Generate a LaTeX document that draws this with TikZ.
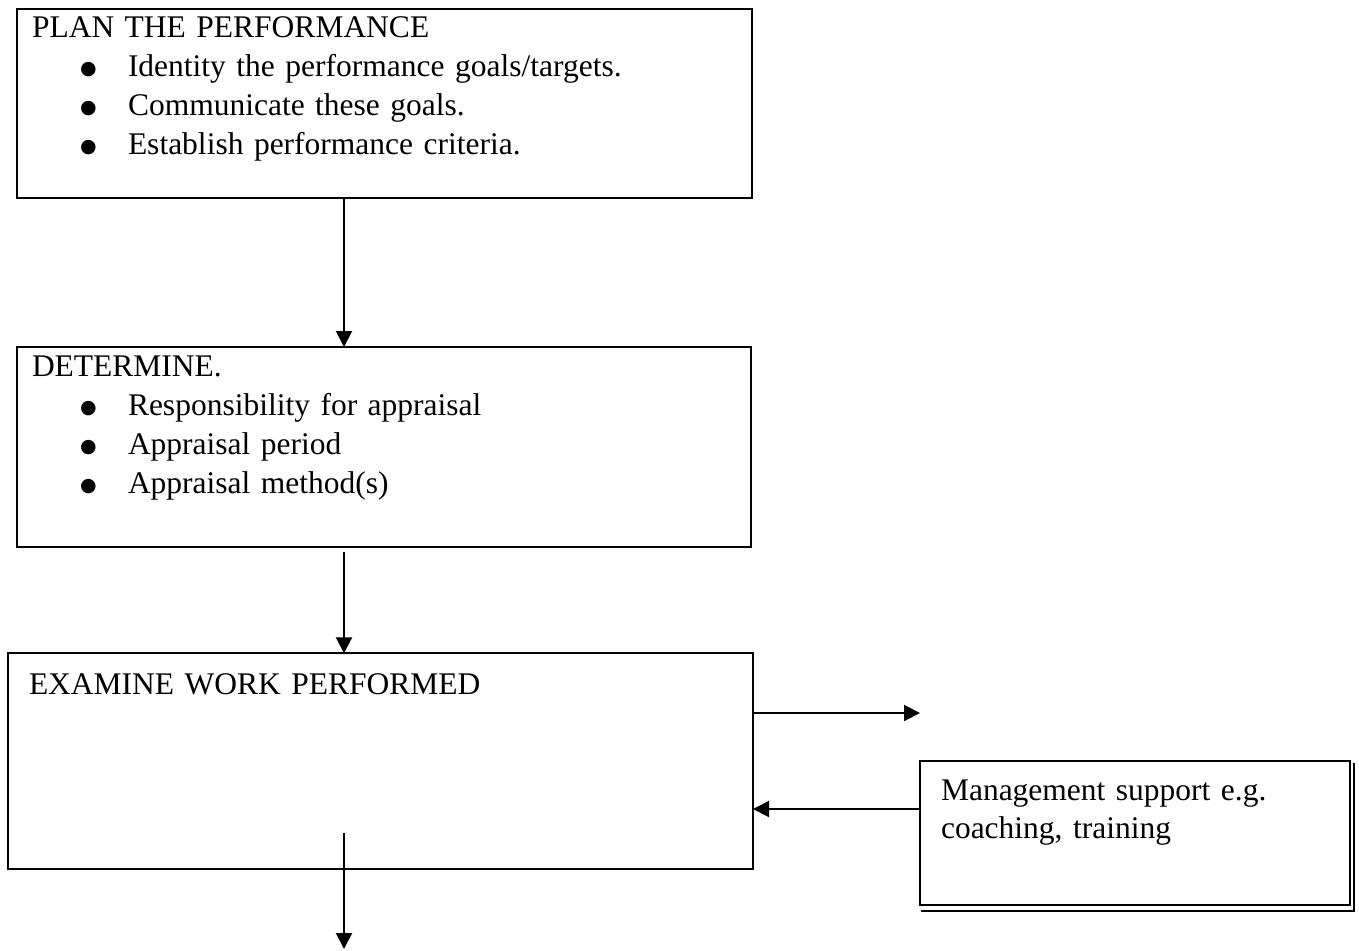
\documentclass[tikz,border=0pt]{standalone}
\usepackage{fontspec}
\setmainfont{Liberation Serif}
\newfontfamily\dotfont{DejaVu Sans}
\usetikzlibrary{arrows.meta}
\tikzstyle{every node}=[font=\fontsize{31.5pt}{39pt}\selectfont]
\tikzstyle{stage}=[draw=black,line width=2pt,anchor=north west,align=left,inner ysep=0pt,outer sep=0pt]
\tikzstyle{flow}=[line width=2pt,-{Triangle[length=16pt,width=16pt]}]
\newcommand{\pitem}[1]{\\\makebox[96pt][l]{\hspace*{48pt}\raisebox{2pt}{\dotfont\fontsize{19pt}{19pt}\selectfont ●}}#1}

\begin{document}
\begin{tikzpicture}[x=1pt,y=-1pt]
    \useasboundingbox (0,0) rectangle (1359,950);
    \coordinate (spine) at (344,0);
    \node[stage,inner xsep=15pt,text width=705pt,text height=28pt,text depth=160.7pt] (plan) at (17,9.3)
        {PLAN THE PERFORMANCE
        \pitem{Identity the performance goals/targets.}
        \pitem{Communicate these goals.}
        \pitem{Establish performance criteria.}};
    \node[stage,inner xsep=15pt,text width=704pt,text height=29pt,text depth=170.7pt] (determine) at (17,347)
        {DETERMINE.
        \pitem{Responsibility for appraisal}
        \pitem{Appraisal period}
        \pitem{Appraisal method(s)}};
    \node[stage,inner xsep=21pt,text width=703pt,text height=40.7pt,text depth=175.3pt] (examine) at (8,653.3)
        {EXAMINE WORK PERFORMED};
    % double edge on the right and bottom
    \draw[line width=2.5pt] (1354,763) |- (921,911);
    \node[stage,fill=white,inner xsep=21pt,text width=388pt,text height=39pt,text depth=105pt,
        font=\fontsize{31.5pt}{38pt}\selectfont] (support) at (920,761)
        {Management support e.g.\\coaching, training};
    \coordinate (next) at (920,713);
    \coordinate (done) at (344,949);
    \coordinate (help) at ([yshift=24pt]support.west);
    \draw[flow] (plan.south -| spine) -- (determine.north -| spine);
    \draw[flow] (determine.south -| spine) ++(0,5) -- (examine.north -| spine);
    \draw[flow] (examine.south -| spine) ++(0,-36.6) -- (done);
    \draw[flow] (examine.east |- next) -- (next);
    \draw[flow] (help) -- (help -| examine.east);
\end{tikzpicture}
\end{document}
